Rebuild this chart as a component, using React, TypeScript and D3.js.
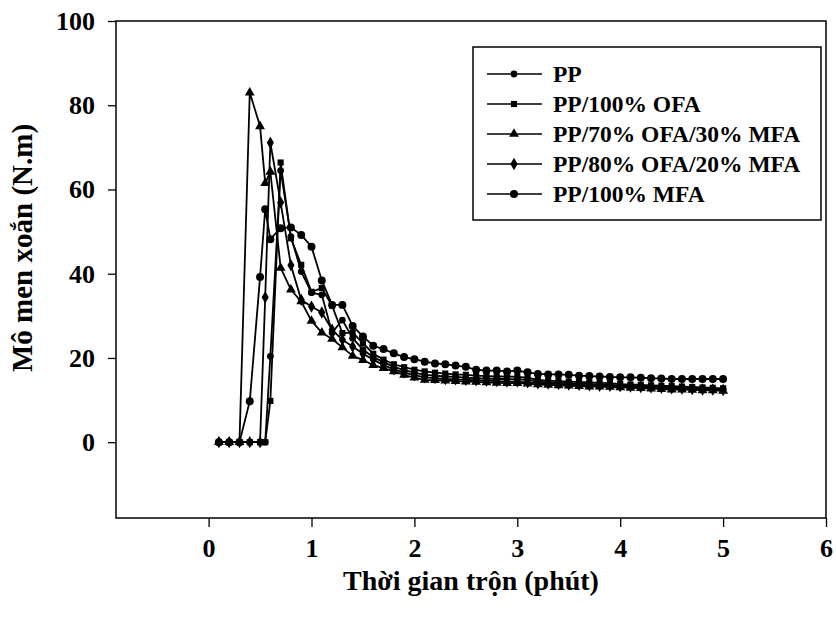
import React, { useEffect, useRef } from "react";
import * as d3 from "d3";

// mixing time (min), shared by every curve
const times = [
  0.1, 0.2, 0.3, 0.4, 0.5, 0.55, 0.6, 0.7, 0.8, 0.9,
  1.0, 1.1, 1.2, 1.3, 1.4, 1.5, 1.6, 1.7, 1.8, 1.9,
  2.0, 2.1, 2.2, 2.3, 2.4, 2.5, 2.6, 2.7, 2.8, 2.9,
  3.0, 3.1, 3.2, 3.3, 3.4, 3.5, 3.6, 3.7, 3.8, 3.9,
  4.0, 4.1, 4.2, 4.3, 4.4, 4.5, 4.6, 4.7, 4.8, 4.9, 5.0,
];

const ppTorque = [
  0, 0, 0, 0, 0, 0, 20.4, 64.5, 48.8, 40.5,
  35.5, 35.0, 26.0, 29.0, 24.7, 22.0, 20.2, 19.0, 17.9, 17.1,
  16.5, 16.0, 15.8, 15.6, 15.5, 15.3, 15.2, 15.1, 15.0, 15.0,
  14.9, 14.8, 14.4, 14.2, 14.1, 14.0, 13.9, 13.8, 13.7, 13.6,
  13.5, 13.4, 13.3, 13.2, 13.1, 13.0, 12.9, 12.8, 12.7, 12.7, 12.6,
];

const ofaTorque = [
  0, 0, 0, 0, 0, 0, 9.8, 66.4, 48.4, 42.1,
  35.7, 36.6, 32.4, 25.9, 26.0, 23.5, 21.0, 19.6, 18.5, 17.8,
  17.2, 16.8, 16.5, 16.3, 16.1, 16.0, 15.8, 15.7, 15.6, 15.6,
  15.5, 15.3, 14.8, 14.6, 14.5, 14.4, 14.3, 14.2, 14.1, 14.0,
  13.8, 13.7, 13.6, 13.5, 13.4, 13.3, 13.2, 13.1, 13.0, 12.9, 12.8,
];

const ofa70Torque = [
  0, 0, 0, 83.0, 75.0, 61.5, 64.2, 41.4, 36.2, 33.4,
  28.8, 26.0, 24.5, 22.5, 20.5, 19.5, 18.3, 17.6, 16.8, 16.0,
  15.3, 14.8, 14.7, 14.6, 14.5, 14.4, 14.3, 14.2, 14.1, 14.0,
  14.0, 13.9, 13.7, 13.6, 13.5, 13.4, 13.3, 13.2, 13.2, 13.1,
  13.0, 12.9, 12.8, 12.7, 12.6, 12.5, 12.5, 12.4, 12.3, 12.3, 12.2,
];

const ofa80Torque = [
  0, 0, 0, 0, 0, 34.4, 71.1, 56.9, 42.0, 33.8,
  32.2, 30.8, 26.7, 24.3, 22.7, 21.0, 19.6, 18.3, 17.3, 16.5,
  15.9, 15.4, 15.2, 15.0, 14.9, 14.8, 14.7, 14.6, 14.5, 14.4,
  14.4, 14.2, 14.0, 13.9, 13.8, 13.7, 13.6, 13.5, 13.4, 13.4,
  13.3, 13.2, 13.1, 13.0, 12.9, 12.8, 12.7, 12.6, 12.5, 12.5, 12.4,
];

const mfaTorque = [
  0, 0, 0, 9.7, 39.2, 55.3, 48.2, 50.8, 51.0, 49.2,
  46.4, 38.4, 32.6, 32.6, 27.6, 25.1, 22.9, 22.1, 21.1, 20.2,
  19.7, 19.1, 18.7, 18.5, 18.2, 17.9, 17.2, 17.0, 17.0, 16.8,
  17.0, 16.6, 16.2, 16.1, 16.1, 16.0, 15.8, 15.7, 15.6, 15.5,
  15.4, 15.4, 15.3, 15.2, 15.1, 15.0, 15.0, 15.0, 15.0, 15.0, 15.0,
];

const seriesNames = [
  "PP",
  "PP/100% OFA",
  "PP/70% OFA/30% MFA",
  "PP/80% OFA/20% MFA",
  "PP/100% MFA",
];
const seriesValues = [ppTorque, ofaTorque, ofa70Torque, ofa80Torque, mfaTorque];

const xTicks = [0, 1, 2, 3, 4, 5, 6];
const yTicks = [0, 20, 40, 60, 80, 100];

const FONT = "'Liberation Serif', 'Times New Roman', serif";

export default function App() {
  const ref = useRef<SVGSVGElement>(null);
  const width = 836;
  const height = 617;

  useEffect(() => {
    const svg = d3.select(ref.current);
    svg.selectAll("*").remove();

    const left = 116, right = 826, top = 21, bottom = 518;

    const x = d3.scaleLinear().domain([-0.9, 6]).range([left, right]);
    const y = d3.scaleLinear().domain([-18, 100]).range([bottom, top]);

    const symbols = [
      d3.symbol().type(d3.symbolCircle).size(36),
      d3.symbol().type(d3.symbolSquare).size(38),
      d3.symbol().type(d3.symbolTriangle).size(42),
      d3.symbol().type(d3.symbolDiamond).size(44),
      d3.symbol().type(d3.symbolCircle).size(50),
    ];

    // frame
    svg.append("rect")
      .attr("x", left).attr("y", top)
      .attr("width", right - left).attr("height", bottom - top)
      .attr("fill", "none").attr("stroke", "#000").attr("stroke-width", 1.5);

    // y axis
    const yAxis = svg.append("g").attr("transform", `translate(${left},0)`)
      .call(d3.axisLeft(y).tickValues(yTicks).tickSize(8).tickPadding(13));
    yAxis.select(".domain").remove();
    yAxis.selectAll("line").attr("stroke-width", 1.3);
    yAxis.selectAll("text")
      .attr("font-family", FONT).attr("font-weight", "bold")
      .attr("font-size", 26).attr("fill", "#000");

    // x axis
    const xAxis = svg.append("g").attr("transform", `translate(0,${bottom})`)
      .call(d3.axisBottom(x).tickValues(xTicks).tickFormat(d3.format("d")).tickSize(9).tickPadding(12));
    xAxis.select(".domain").remove();
    xAxis.selectAll("line").attr("stroke-width", 1.3);
    xAxis.selectAll("text")
      .attr("font-family", FONT).attr("font-weight", "bold")
      .attr("font-size", 26).attr("fill", "#000");

    // axis titles
    svg.append("text")
      .attr("x", 471).attr("y", 590)
      .attr("text-anchor", "middle")
      .attr("font-family", FONT).attr("font-weight", "bold").attr("font-size", 28)
      .text("Thời gian trộn (phút)");

    svg.append("text")
      .attr("transform", `translate(32,248) rotate(-90)`)
      .attr("text-anchor", "middle")
      .attr("font-family", FONT).attr("font-weight", "bold").attr("font-size", 29)
      .text("Mô men xoắn (N.m)");

    const line = d3.line<number>()
      .x((_, i) => x(times[i]))
      .y((d) => y(d));

    seriesValues.forEach((vals, s) => {
      const g = svg.append("g");
      g.append("path")
        .attr("d", line(vals))
        .attr("fill", "none")
        .attr("stroke", "#000")
        .attr("stroke-width", 1.8);
      g.selectAll("path.mk")
        .data(vals)
        .join("path")
        .attr("class", "mk")
        .attr("transform", (d, i) => `translate(${x(times[i])},${y(d)})`)
        .attr("d", symbols[s]())
        .attr("fill", "#000");
    });

    // legend
    const lg = svg.append("g");
    lg.append("rect")
      .attr("x", 473).attr("y", 47)
      .attr("width", 348).attr("height", 173)
      .attr("fill", "#fff").attr("stroke", "#000").attr("stroke-width", 1.5);
    seriesNames.forEach((name, s) => {
      const cy = 74 + s * 30;
      lg.append("line")
        .attr("x1", 487).attr("x2", 542)
        .attr("y1", cy).attr("y2", cy)
        .attr("stroke", "#000").attr("stroke-width", 1.6);
      lg.append("path")
        .attr("transform", `translate(514,${cy})`)
        .attr("d", symbols[s]())
        .attr("fill", "#000");
      lg.append("text")
        .attr("x", 553).attr("y", cy + 8)
        .attr("font-family", FONT).attr("font-weight", "bold").attr("font-size", 23.5)
        .text(name);
    });
  }, []);

  return (
    <svg
      ref={ref}
      width={width}
      height={height}
      style={{ position: "absolute", left: 0, top: 0, background: "#fff" }}
    />
  );
}
